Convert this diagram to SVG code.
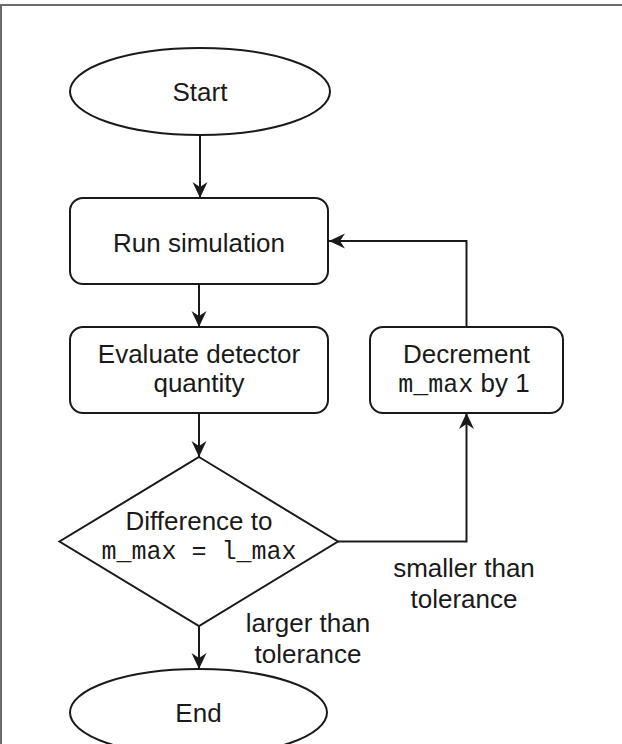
<svg xmlns="http://www.w3.org/2000/svg" width="622" height="744" viewBox="0 0 622 744">
  <style>
    .shape { fill: #ffffff; stroke: #1a1a1a; stroke-width: 2; }
    .edge { fill: none; stroke: #1a1a1a; stroke-width: 2; }
    .lbl { font-family: "Liberation Sans", Arial, sans-serif; font-size: 26px; fill: #1a1a1a; text-anchor: middle; }
    .mono { font-family: "Liberation Mono", "Courier New", monospace; font-size: 25px; }
  </style>
  <defs>
    <marker id="arrow" viewBox="0 0 16 16" refX="16" refY="8" markerWidth="16" markerHeight="16" markerUnits="userSpaceOnUse" orient="auto">
      <path d="M16,8 L0,0.5 L5,8 L0,15.5 Z" fill="#1a1a1a"/>
    </marker>
  </defs>

  <rect width="622" height="744" fill="#ffffff"/>
  <!-- page frame -->
  <path d="M1,744 V5 H622" fill="none" stroke="#6b6b6b" stroke-width="2"/>

  <g id="connectors">
    <path class="edge" d="M200,135 V198" marker-end="url(#arrow)"/>
    <path class="edge" d="M199,284 V327" marker-end="url(#arrow)"/>
    <path class="edge" d="M199,413 V457" marker-end="url(#arrow)"/>
    <path class="edge" d="M199,626 V669" marker-end="url(#arrow)"/>
    <path class="edge" d="M338,541.5 H466.5 V413" marker-end="url(#arrow)"/>
    <path class="edge" d="M466.5,327 V241 H329" marker-end="url(#arrow)"/>
  </g>

  <g id="start">
    <ellipse class="shape" cx="200" cy="91.5" rx="130" ry="43.5"/>
    <text class="lbl" x="200" y="100.5">Start</text>
  </g>

  <g id="run-simulation">
    <rect class="shape" x="70" y="198" width="258" height="86" rx="13"/>
    <text class="lbl" x="199" y="251.5">Run simulation</text>
  </g>

  <g id="evaluate">
    <rect class="shape" x="70" y="327" width="258" height="86" rx="13"/>
    <text class="lbl" x="199" y="363">Evaluate detector</text>
    <text class="lbl" x="199" y="392">quantity</text>
  </g>

  <g id="decrement">
    <rect class="shape" x="370" y="327" width="193" height="86" rx="13"/>
    <text class="lbl" x="466.5" y="363">Decrement</text>
    <text class="lbl" x="464" y="392"><tspan class="mono">m_max</tspan> by 1</text>
  </g>

  <g id="difference">
    <path class="shape" d="M199,457 L338,541.5 L199,626 L59.5,541.5 Z"/>
    <text class="lbl" x="199" y="530">Difference to</text>
    <text class="lbl mono" x="199" y="559">m_max = l_max</text>
  </g>

  <g id="end">
    <ellipse class="shape" cx="198.5" cy="712.5" rx="128.5" ry="43.5"/>
    <text class="lbl" x="198.5" y="721.5">End</text>
  </g>

  <g id="edge-labels">
    <text class="lbl" x="308" y="632">larger than</text>
    <text class="lbl" x="308" y="663">tolerance</text>
    <text class="lbl" x="464" y="577">smaller than</text>
    <text class="lbl" x="464" y="608">tolerance</text>
  </g>
</svg>
